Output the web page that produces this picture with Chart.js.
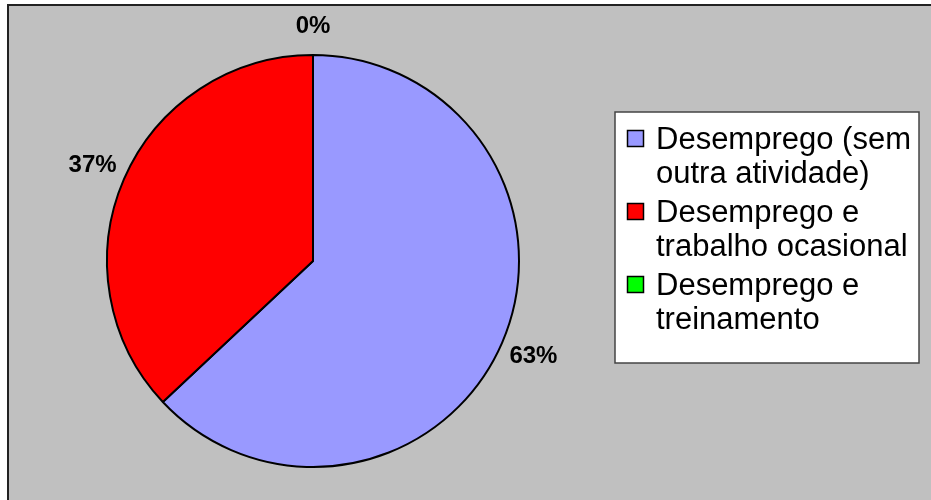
<!DOCTYPE html>
<html>
<head>
<meta charset="utf-8">
<script src="https://cdn.jsdelivr.net/npm/chart.js@4/dist/chart.umd.min.js"></script>
<style>
  body { margin: 0; background: #fff; }
  #wrap { width: 931px; height: 500px; }
</style>
</head>
<body>
<div id="wrap"><canvas id="chartDesemprego" width="931" height="500"></canvas></div>
<script>
// dados do grafico
const categorias = [
  ['Desemprego (sem', 'outra atividade)'],
  ['Desemprego e', 'trabalho ocasional'],
  ['Desemprego e', 'treinamento']
];
const valores = [63, 37, 0];
const cores = ['#9999FF', '#FF0000', '#00FF00'];

// fundo cinza com moldura
const fundo = {
  id: 'fundo',
  beforeDraw(chart) {
    const ctx = chart.ctx;
    ctx.save();
    ctx.fillStyle = '#fff';
    ctx.fillRect(0, 0, chart.width, chart.height);
    ctx.fillStyle = '#C0C0C0';
    ctx.fillRect(8, 5, chart.width, chart.height);
    ctx.strokeStyle = '#222';
    ctx.lineWidth = 2;
    ctx.beginPath();
    ctx.moveTo(8, chart.height);
    ctx.lineTo(8, 5);
    ctx.lineTo(chart.width, 5);
    ctx.stroke();
    ctx.restore();
  }
};

// rotulos de percentagem fora das fatias
const rotulos = {
  id: 'rotulos',
  afterDatasetsDraw(chart) {
    const ctx = chart.ctx;
    const meta = chart.getDatasetMeta(0);
    const dados = chart.data.datasets[0].data;
    const total = dados.reduce((a, b) => a + b, 0);
    ctx.save();
    ctx.font = 'bold 24px "Liberation Sans", Arial, sans-serif';
    ctx.fillStyle = '#000';
    ctx.textAlign = 'center';
    ctx.textBaseline = 'middle';
    meta.data.forEach((arc, i) => {
      const txt = Math.round(dados[i] / total * 100) + '%';
      const meio = (arc.startAngle + arc.endAngle) / 2;
      const c = Math.cos(meio), s = Math.sin(meio);
      const w = ctx.measureText(txt).width / 2;
      const d = arc.outerRadius + 1 + w * Math.abs(c) + 28 * Math.abs(s);
      ctx.fillText(txt, arc.x + c * d, arc.y + s * d);
    });
    ctx.restore();
  }
};

// legenda desenhada a mao (textos em duas linhas)
const legenda = {
  id: 'legenda',
  afterDraw(chart) {
    const ctx = chart.ctx;
    const ds = chart.data.datasets[0];
    const bx = 615, by = 112, bw = 304, bh = 251;
    ctx.save();
    ctx.fillStyle = '#fff';
    ctx.fillRect(bx, by, bw, bh);
    ctx.strokeStyle = '#444';
    ctx.lineWidth = 1.5;
    ctx.strokeRect(bx, by, bw, bh);
    ctx.font = '31px "Liberation Sans", Arial, sans-serif';
    ctx.textBaseline = 'alphabetic';
    let base = 149;
    chart.data.labels.forEach((linhas, i) => {
      ctx.fillStyle = ds.backgroundColor[i];
      ctx.fillRect(627.5, base - 18.5, 16, 16);
      ctx.strokeStyle = '#000';
      ctx.lineWidth = 1.5;
      ctx.strokeRect(627.5, base - 18.5, 16, 16);
      ctx.fillStyle = '#000';
      linhas.forEach((l, j) => ctx.fillText(l, 656, base + j * 34));
      base += 73;
    });
    ctx.restore();
  }
};

const chartDesemprego = document.getElementById('chartDesemprego');

new Chart(chartDesemprego, {
  type: 'pie',
  data: {
    labels: categorias,
    datasets: [{
      data: valores,
      backgroundColor: cores,
      borderColor: '#000',
      borderWidth: 2
    }]
  },
  options: {
    responsive: false,
    animation: false,
    layout: { padding: { top: 54, bottom: 32, left: 106, right: 411 } },
    plugins: {
      legend: { display: false },
      tooltip: { enabled: false }
    }
  },
  plugins: [fundo, rotulos, legenda]
});
</script>
</body>
</html>
